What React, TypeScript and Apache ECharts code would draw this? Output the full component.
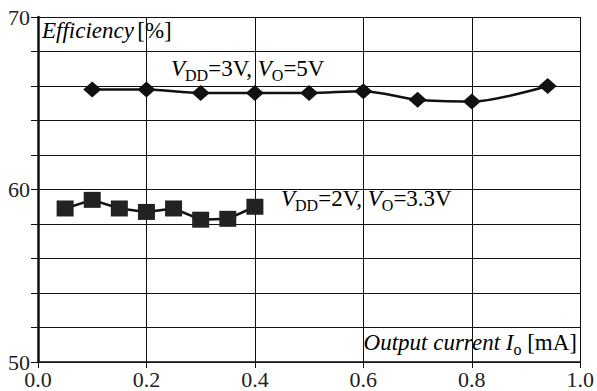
import React, { useEffect, useRef } from "react";
import * as echarts from "echarts";

const xTicks = [0, 0.2, 0.4, 0.6, 0.8, 1.0];
const yLabeled = [50, 60, 70];

const seriesAx = [0.1, 0.2, 0.3, 0.4, 0.5, 0.6, 0.7, 0.8, 0.94];
const seriesAy = [65.8, 65.8, 65.6, 65.6, 65.6, 65.7, 65.2, 65.1, 66.0];

const seriesBx = [0.05, 0.1, 0.15, 0.2, 0.25, 0.3, 0.35, 0.4];
const seriesBy = [58.9, 59.4, 58.9, 58.7, 58.9, 58.25, 58.3, 59.0];

const FONT = "Liberation Serif";

export default function App() {
  const ref = useRef<HTMLDivElement>(null);
  useEffect(() => {
    document.body.style.margin = "0";
    if (!ref.current) return;
    const chart = echarts.init(ref.current, undefined, { renderer: "svg" });
    const main = { fontFamily: FONT, fontSize: 23, color: "#111", lineHeight: 30, verticalAlign: "middle" as const };
    const ital = { ...main, fontStyle: "italic" as const };
    const sub = { fontFamily: FONT, fontSize: 16, color: "#111", lineHeight: 16, verticalAlign: "bottom" as const };
    const rich = { i: ital, n: main, s: sub };
    const tickRich = { a: { fontFamily: FONT, fontSize: 22, color: "#222" } };
    chart.setOption({
      animation: false,
      backgroundColor: "#fff",
      textStyle: { fontFamily: FONT },
      grid: { left: 38, right: 16, top: 17, bottom: 29, containLabel: false },
      xAxis: {
        type: "value",
        min: 0,
        max: 1,
        interval: 0.2,
        axisLine: { show: true, onZero: false, lineStyle: { color: "#111", width: 1.5 } },
        axisTick: { show: true, inside: false, length: 6, lineStyle: { color: "#111", width: 1 } },
        splitLine: { show: true, lineStyle: { color: "#111", width: 1 } },
        axisLabel: {
          fontFamily: FONT,
          fontSize: 22,
          color: "#222",
          margin: 6,
          rich: tickRich,
          formatter: (v: number) =>
            xTicks.some((t) => Math.abs(t - v) < 1e-6) ? `{a|${v.toFixed(1)}}` : "",
        },
      },
      yAxis: {
        type: "value",
        min: 50,
        max: 70,
        interval: 2,
        axisLine: { show: true, onZero: false, lineStyle: { color: "#111", width: 2.5 } },
        axisTick: { show: true, inside: false, length: 7, lineStyle: { color: "#111", width: 1 } },
        splitLine: { show: true, lineStyle: { color: "#111", width: 1 } },
        axisLabel: {
          fontFamily: FONT,
          fontSize: 22,
          color: "#222",
          margin: 8,
          rich: tickRich,
          formatter: (v: number) => (yLabeled.includes(v) ? `{a|${v}}` : ""),
        },
      },
      series: [
        {
          type: "line",
          data: seriesAx.map((x, i) => [x, seriesAy[i]]),
          symbol: "diamond",
          symbolSize: [18, 16],
          smooth: 0.3,
          lineStyle: { color: "#111", width: 2.5 },
          itemStyle: { color: "#111" },
        },
        {
          type: "line",
          data: seriesBx.map((x, i) => [x, seriesBy[i]]),
          symbol: "rect",
          symbolSize: [17, 16],
          lineStyle: { color: "#111", width: 2.5 },
          itemStyle: { color: "#222" },
        },
      ],
      graphic: [
        {
          type: "text",
          left: 42,
          top: 19,
          style: { text: "{i|Efficiency} {n|[%]}", rich },
        },
        {
          type: "text",
          left: 171,
          top: 57,
          style: { text: "{i|V}{s|DD}{n|=3V, }{i|V}{s|O}{n|=5V}", rich },
        },
        {
          type: "text",
          left: 281,
          top: 187,
          style: { text: "{i|V}{s|DD}{n|=2V, }{i|V}{s|O}{n|=3.3V}", rich },
        },
        {
          type: "text",
          right: 20,
          top: 331,
          style: { text: "{i|Output current I}{s|o}{n| [mA]}", rich },
        },
      ],
    });
    return () => chart.dispose();
  }, []);
  return <div ref={ref} style={{ width: 597, height: 391 }} />;
}
